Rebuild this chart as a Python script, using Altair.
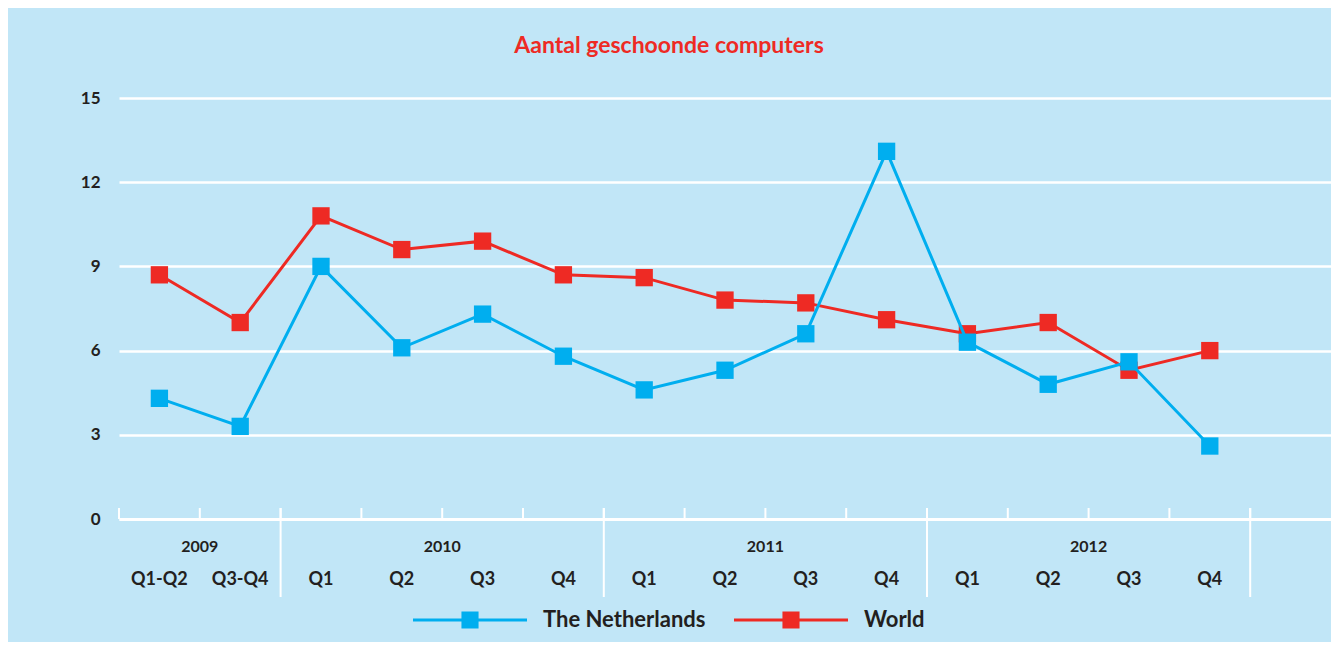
import altair as alt
import pandas as pd

# ---- data ----
periods = ["Q1-Q2", "Q3-Q4", "Q1", "Q2", "Q3", "Q4", "Q1", "Q2", "Q3", "Q4", "Q1", "Q2", "Q3", "Q4"]
period_years = ["2009", "2009", "2010", "2010", "2010", "2010", "2011", "2011", "2011", "2011",
                "2012", "2012", "2012", "2012"]
netherlands = [4.3, 3.3, 9.0, 6.1, 7.3, 5.8, 4.6, 5.3, 6.6, 13.1, 6.3, 4.8, 5.6, 2.6]
world = [8.7, 7.0, 10.8, 9.6, 9.9, 8.7, 8.6, 7.8, 7.7, 7.1, 6.6, 7.0, 5.3, 6.0]
series_names = ["The Netherlands", "World"]
y_ticks = [0, 3, 6, 9, 12, 15]
n_slots = 15  # 14 periods + one empty slot at the end

BG = "#c1e6f7"
BLUE = "#00aeef"
RED = "#ee2a24"
DARK = "#231f20"
FONT = "Lato"
W, H = 1212, 421

rows = []
for i, p in enumerate(periods):
    rows.append({"series": "World", "pos": i + 0.5, "value": world[i], "period": p, "year": period_years[i]})
for i, p in enumerate(periods):
    rows.append({"series": "The Netherlands", "pos": i + 0.5, "value": netherlands[i], "period": p, "year": period_years[i]})
df = pd.DataFrame(rows)

labels_df = pd.DataFrame({"pos": [i + 0.5 for i in range(len(periods))], "period": periods})

yr_rows = []
for y in sorted(set(period_years)):
    idx = [i for i, v in enumerate(period_years) if v == y]
    yr_rows.append({"year": y, "center": (min(idx) + max(idx) + 1) / 2, "end": max(idx) + 1})
years_df = pd.DataFrame(yr_rows)
ticks_df = pd.DataFrame({"b": list(range(len(periods) + 1))})

xscale = alt.Scale(domain=[0, n_slots], nice=False, zero=False)
yscale = alt.Scale(domain=[0, 15], nice=False)
cscale = alt.Scale(domain=series_names, range=[BLUE, RED])

legend_path = ("M-1,-0.028 H1 V0.028 H-1 Z "
               "M-0.15,-0.15 H0.15 V0.15 H-0.15 Z")
legend = alt.Legend(
    title=None, orient="none", direction="horizontal",
    legendX=294, legendY=465,
    symbolType=legend_path, symbolSize=12996, symbolStrokeWidth=0,
    labelFont=FONT, labelFontSize=22, labelFontWeight="bold", labelColor=DARK,
    labelOffset=16, columnPadding=28, labelLimit=0,
)

x_axis = alt.Axis(title=None, labels=False, ticks=False, grid=False,
                  domain=True, domainColor="white", domainWidth=3)
y_axis = alt.Axis(title=None, values=y_ticks, grid=True, gridColor="white", gridWidth=2.5,
                  domain=False, ticks=False, labelPadding=19, labelFont=FONT,
                  labelFontSize=17, labelFontWeight="bold", labelColor=DARK)

base = alt.Chart(df)

def series_layers(name):
    d = base.transform_filter(alt.datum.series == name)
    enc = dict(
        x=alt.X("pos:Q", scale=xscale, axis=x_axis),
        y=alt.Y("value:Q", scale=yscale, axis=y_axis),
        color=alt.Color("series:N", scale=cscale, legend=legend),
    )
    line = d.mark_line(strokeWidth=3).encode(**enc)
    pts = d.mark_point(shape="square", filled=True, size=300, opacity=1).encode(**enc)
    return [line, pts]

small_ticks = alt.Chart(ticks_df).mark_rule(color="white", strokeWidth=2).encode(
    x=alt.X("b:Q", scale=xscale), y=alt.value(H), y2=alt.value(H - 11))
separators = alt.Chart(years_df).mark_rule(color="white", strokeWidth=2).encode(
    x=alt.X("end:Q", scale=xscale), y=alt.value(H - 11), y2=alt.value(H + 78))
q_labels = alt.Chart(labels_df).mark_text(
    font=FONT, fontSize=18, fontWeight="bold", color=DARK, baseline="middle").encode(
    x=alt.X("pos:Q", scale=xscale), y=alt.value(H + 61), text="period:N")
y_labels = alt.Chart(years_df).mark_text(
    font=FONT, fontSize=16, fontWeight="bold", color=DARK, baseline="middle").encode(
    x=alt.X("center:Q", scale=xscale), y=alt.value(H + 28), text="year:N")

chart = alt.layer(
    *series_layers("World"), *series_layers("The Netherlands"),
    small_ticks, separators, q_labels, y_labels,
).properties(
    width=W, height=H,
    autosize=alt.AutoSizeParams(type="none"),
    padding={"left": 111, "top": 90, "right": 0, "bottom": 123},
    background=BG,
    title=alt.Title("Aantal geschoonde computers", color=RED, font=FONT, fontSize=23,
                    fontWeight="bold", anchor="middle", frame="group", dx=-56, offset=31),
).configure_view(stroke=None)

chart.save("out.html", embed_options={"renderer": "svg", "actions": False})
